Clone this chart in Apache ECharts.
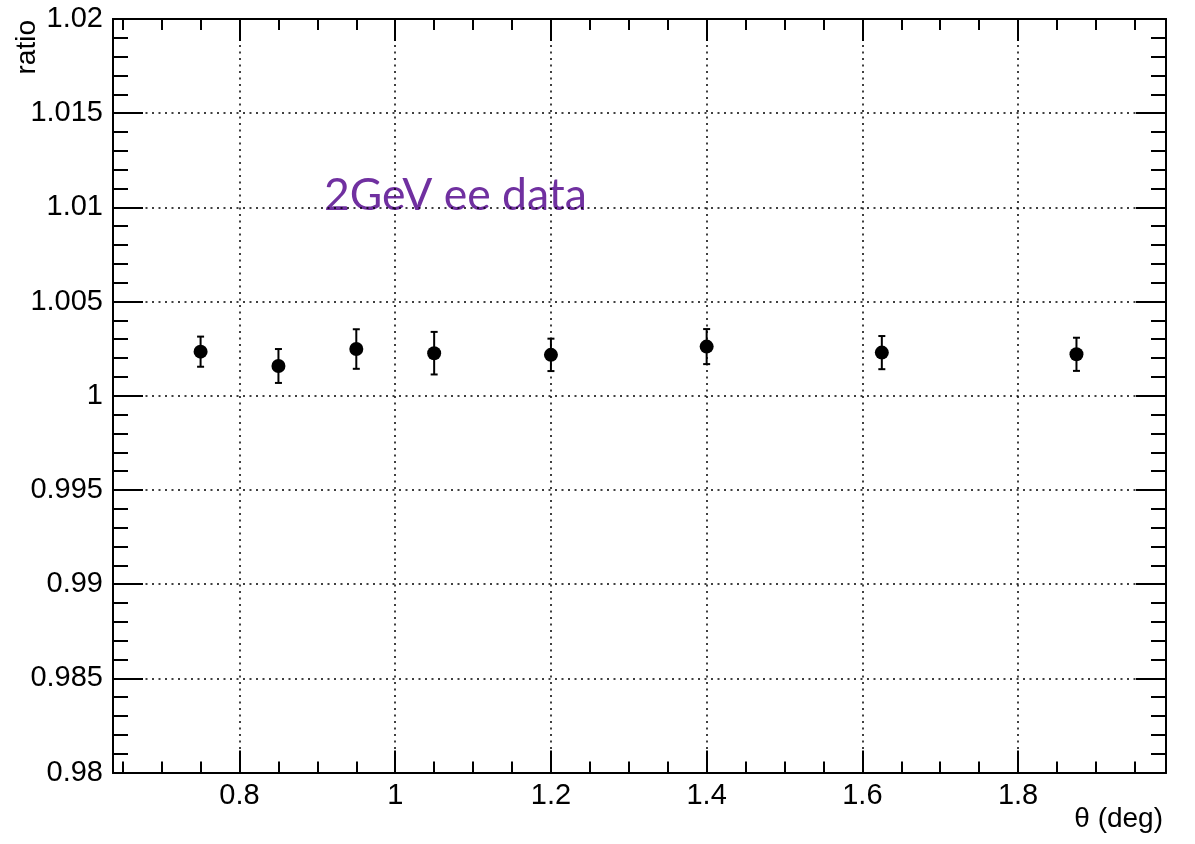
<!DOCTYPE html>
<html>
<head>
<meta charset="utf-8">
<script src="https://cdn.jsdelivr.net/npm/echarts@6/dist/echarts.min.js"></script>
<style>
  html, body { margin: 0; padding: 0; background: #fff; }
  #chart { width: 1195px; height: 844px; }
</style>
</head>
<body>
<div id="chart"></div>
<script>
// Bin centres (deg), measured ratio and its statistical error
const theta = [0.75, 0.85, 0.95, 1.05, 1.2, 1.4, 1.625, 1.875];
const ratio = [1.00234, 1.00158, 1.00248, 1.00226, 1.00217, 1.00261, 1.00229, 1.00220];
const ratioErr = [0.0008, 0.0009, 0.00105, 0.00113, 0.00086, 0.00093, 0.00088, 0.00088];

// Axis ticks
const xMajorTicks = [0.8, 1.0, 1.2, 1.4, 1.6, 1.8];
const xMinorTicks = [0.65, 0.7, 0.75, 0.85, 0.9, 0.95, 1.05, 1.1, 1.15, 1.25, 1.3, 1.35,
                     1.45, 1.5, 1.55, 1.65, 1.7, 1.75, 1.85, 1.9, 1.95];
const xRange = [0.6375, 1.99];
const yRange = [0.98, 1.02];

const titleText = '2GeV ee data';
const xTitle = 'θ (deg)';
const yTitle = 'ratio';

const chart = echarts.init(document.getElementById('chart'));

const labelFont = { fontFamily: 'Liberation Sans', fontSize: 29, color: '#000' };
const frameLine = { show: true, onZero: false, lineStyle: { color: '#000', width: 2 } };
const dotted = { color: '#000', width: 1.5, type: [2, 4.5] };

function xAxisDef(position, ticks, len, withLabels) {
  return {
    type: 'value', position: position, min: xRange[0], max: xRange[1],
    axisLine: frameLine,
    axisTick: { show: true, inside: true, length: len, customValues: ticks,
                lineStyle: { color: '#000', width: 2 } },
    axisLabel: withLabels
      ? Object.assign({ show: true, margin: 9, customValues: xMajorTicks }, labelFont)
      : { show: false },
    splitLine: withLabels ? { show: true, lineStyle: dotted } : { show: false }
  };
}

function yAxisDef(position, withLabels) {
  return {
    type: 'value', position: position, min: yRange[0], max: yRange[1], interval: 0.005,
    axisLine: frameLine,
    axisTick: { show: true, inside: true, length: 30, lineStyle: { color: '#000', width: 2 } },
    minorTick: { show: true, splitNumber: 5, length: 15, lineStyle: { color: '#000', width: 2 } },
    axisLabel: withLabels
      ? Object.assign({ show: true, margin: 10,
          formatter: v => String(parseFloat(v.toFixed(4))) }, labelFont)
      : { show: false },
    splitLine: withLabels ? { show: true, lineStyle: dotted } : { show: false }
  };
}

const points = theta.map((t, i) => [t, ratio[i]]);
const bars = theta.map((t, i) => [t, ratio[i] - ratioErr[i], ratio[i] + ratioErr[i]]);

chart.setOption({
  backgroundColor: '#fff',
  animation: false,
  grid: { left: 113, right: 29, top: 19, bottom: 71.5, outerBoundsMode: 'none' },
  xAxis: [
    xAxisDef('bottom', xMajorTicks, 22, true),
    xAxisDef('bottom', xMinorTicks, 11, false),
    xAxisDef('top', xMajorTicks, 22, false),
    xAxisDef('top', xMinorTicks, 11, false)
  ],
  yAxis: [
    yAxisDef('left', true),
    yAxisDef('right', false)
  ],
  series: [
    {
      type: 'custom',
      xAxisIndex: 0, yAxisIndex: 0,
      data: bars,
      z: 3,
      renderItem: function (params, api) {
        const x = api.value(0);
        const lo = api.coord([x, api.value(1)]);
        const hi = api.coord([x, api.value(2)]);
        const cap = 3.5;
        const style = { stroke: '#000', lineWidth: 2 };
        return {
          type: 'group',
          children: [
            { type: 'line', shape: { x1: lo[0], y1: lo[1], x2: hi[0], y2: hi[1] }, style: style },
            { type: 'line', shape: { x1: lo[0] - cap, y1: lo[1], x2: lo[0] + cap, y2: lo[1] }, style: style },
            { type: 'line', shape: { x1: hi[0] - cap, y1: hi[1], x2: hi[0] + cap, y2: hi[1] }, style: style }
          ]
        };
      }
    },
    {
      type: 'scatter',
      xAxisIndex: 0, yAxisIndex: 0,
      data: points,
      symbol: 'circle',
      symbolSize: 14,
      itemStyle: { color: '#000', opacity: 1 },
      z: 4
    }
  ],
  graphic: [
    {
      type: 'text', x: 324, y: 196,
      style: { text: titleText, fill: '#7030A0', font: '44.5px Lato',
               align: 'left', verticalAlign: 'middle' }
    },
    {
      type: 'text', x: 1163, y: 819,
      style: { text: xTitle, fill: '#000', font: '28px "Liberation Sans"',
               align: 'right', verticalAlign: 'middle' }
    },
    {
      type: 'text', x: 27, y: 20, rotation: Math.PI / 2,
      style: { text: yTitle, fill: '#000', font: '28px "Liberation Sans"',
               align: 'right', verticalAlign: 'middle' }
    }
  ]
});
</script>
</body>
</html>
